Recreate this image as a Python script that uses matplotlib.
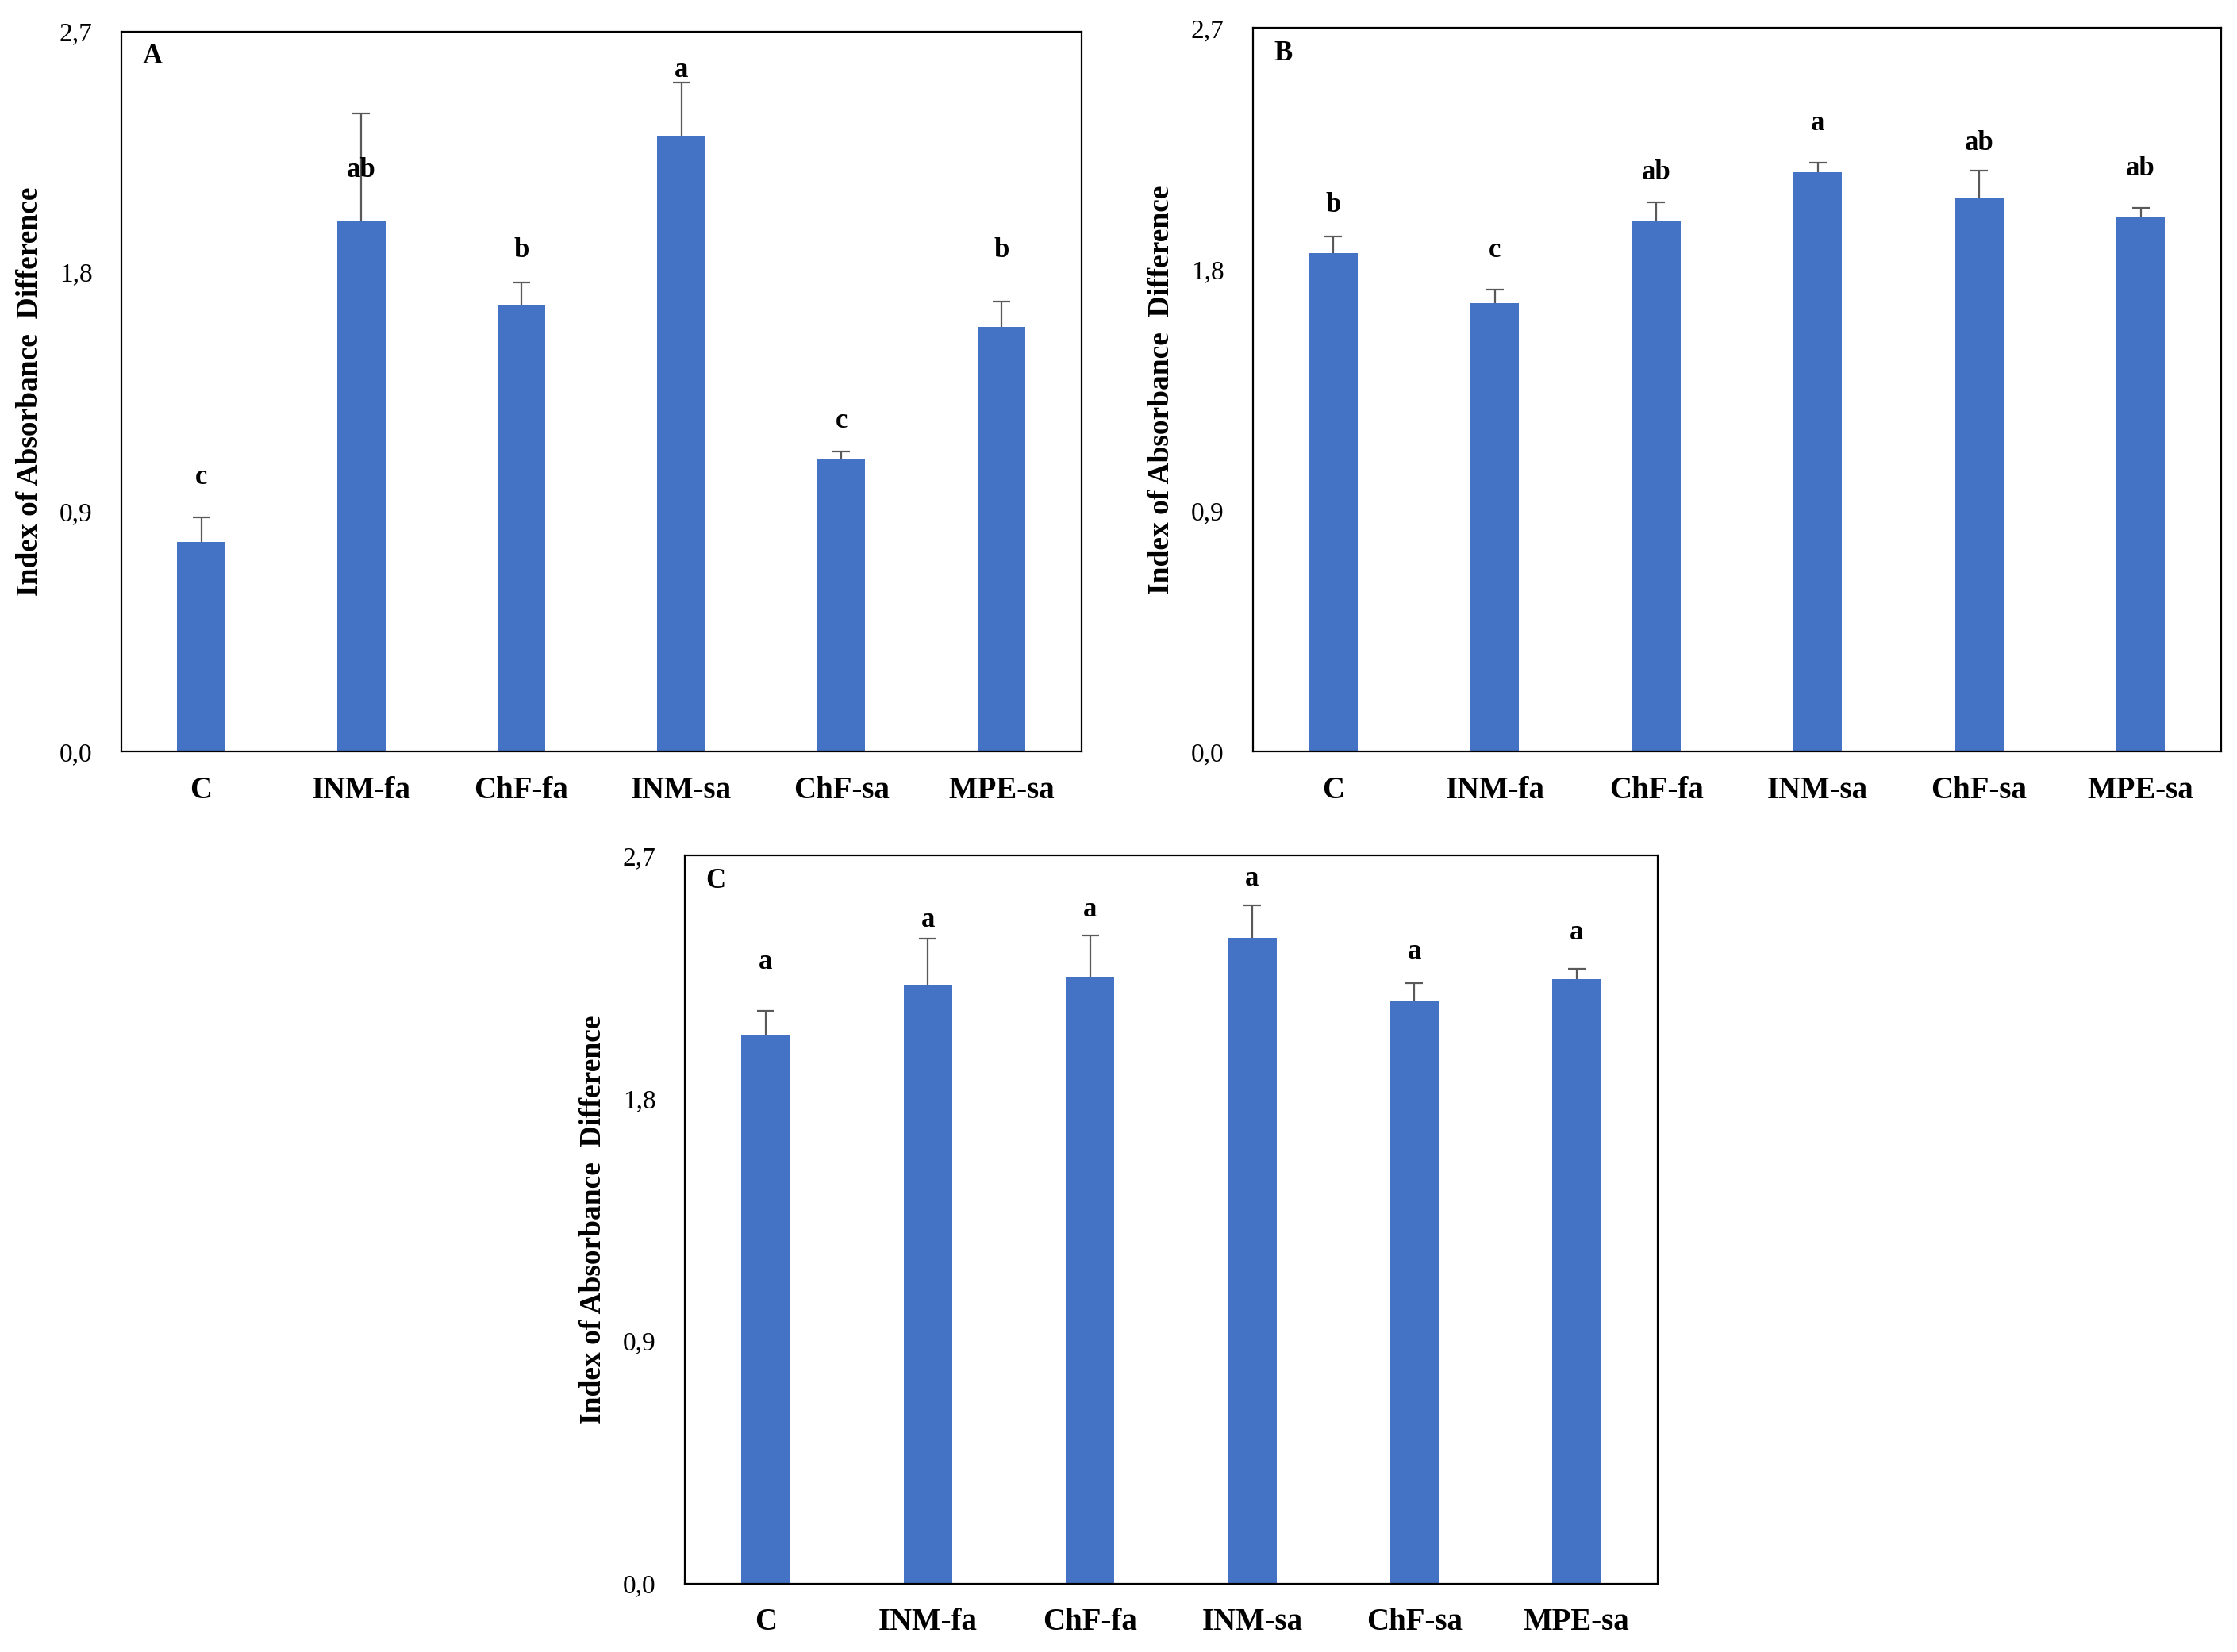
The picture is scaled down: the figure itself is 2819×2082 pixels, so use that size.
import matplotlib
matplotlib.use("Agg")
import matplotlib.pyplot as plt

plt.rcParams['font.family'] = ['Liberation Serif', 'DejaVu Serif']

# Data
categories = ["C", "INM-fa", "ChF-fa", "INM-sa", "ChF-sa", "MPE-sa"]

means_a = [0.785, 1.992, 1.675, 2.310, 1.096, 1.592]
err_a = [0.093, 0.399, 0.085, 0.198, 0.029, 0.095]
letters_a = ["c", "ab", "b", "a", "c", "b"]
letter_y_a = [1.03, 2.18, 1.88, 2.555, 1.24, 1.88]

means_b = [1.860, 1.674, 1.978, 2.163, 2.067, 1.994]
err_b = [0.063, 0.051, 0.073, 0.034, 0.102, 0.034]
letters_b = ["b", "c", "ab", "a", "ab", "ab"]
letter_y_b = [2.04, 1.87, 2.16, 2.345, 2.27, 2.175]

means_c = [2.036, 2.222, 2.251, 2.394, 2.163, 2.243]
err_c = [0.088, 0.170, 0.152, 0.121, 0.065, 0.037]
letters_c = ["a", "a", "a", "a", "a", "a"]
letter_y_c = [2.306, 2.462, 2.501, 2.614, 2.345, 2.413]

yticks = [0.0, 0.9, 1.8, 2.7]
ytick_labels = ["0,0", "0,9", "1,8", "2,7"]

bar_color = "#4472C4"
err_color = "#595959"

fig = plt.figure(figsize=(28.19, 20.82), dpi=100)

panels = [
    ("A", means_a, err_a, letters_a, letter_y_a, [0.0542, 0.545, 0.4292, 0.436]),
    ("B", means_b, err_b, letters_b, letter_y_b, [0.560, 0.545, 0.433, 0.438]),
    ("C", means_c, err_c, letters_c, letter_y_c, [0.306, 0.0415, 0.435, 0.4405]),
]

for name, means, errs, letters, ly, rect in panels:
    ax = fig.add_axes(rect)
    x = list(range(len(categories)))
    ax.bar(x, means, width=0.3, color=bar_color, zorder=2)
    # upper error bars only, cap on top
    ax.errorbar(x, means, yerr=[[0] * len(errs), errs], fmt="none",
                ecolor=err_color, elinewidth=1.6, capsize=0, zorder=3)
    tops = [m + e for m, e in zip(means, errs)]
    ax.plot(x, tops, ls="none", marker="_", markersize=16, markeredgewidth=1.6,
            color=err_color, zorder=3)
    for xi, lab, yy in zip(x, letters, ly):
        ax.text(xi, yy, lab, ha="center", va="center", fontsize=25, fontweight="bold")
    ax.set_xlim(-0.5, len(categories) - 0.5)
    ax.set_ylim(0, 2.7)
    ax.set_yticks(yticks)
    ax.set_yticklabels(ytick_labels, fontsize=24)
    ax.set_xticks(x)
    ax.set_xticklabels(categories, fontsize=28, fontweight="bold")
    ax.tick_params(axis="y", length=0, pad=26)
    ax.tick_params(axis="x", length=0, pad=22)
    ax.set_ylabel("Index of Absorbance  Difference", fontsize=27, fontweight="bold", labelpad=14)
    for sp in ax.spines.values():
        sp.set_linewidth(1.6)
        sp.set_color("black")
    ax.text(0.022, 0.965, name, transform=ax.transAxes, ha="left", va="center",
            fontsize=25, fontweight="bold")

fig.savefig("out.png", dpi=100)
